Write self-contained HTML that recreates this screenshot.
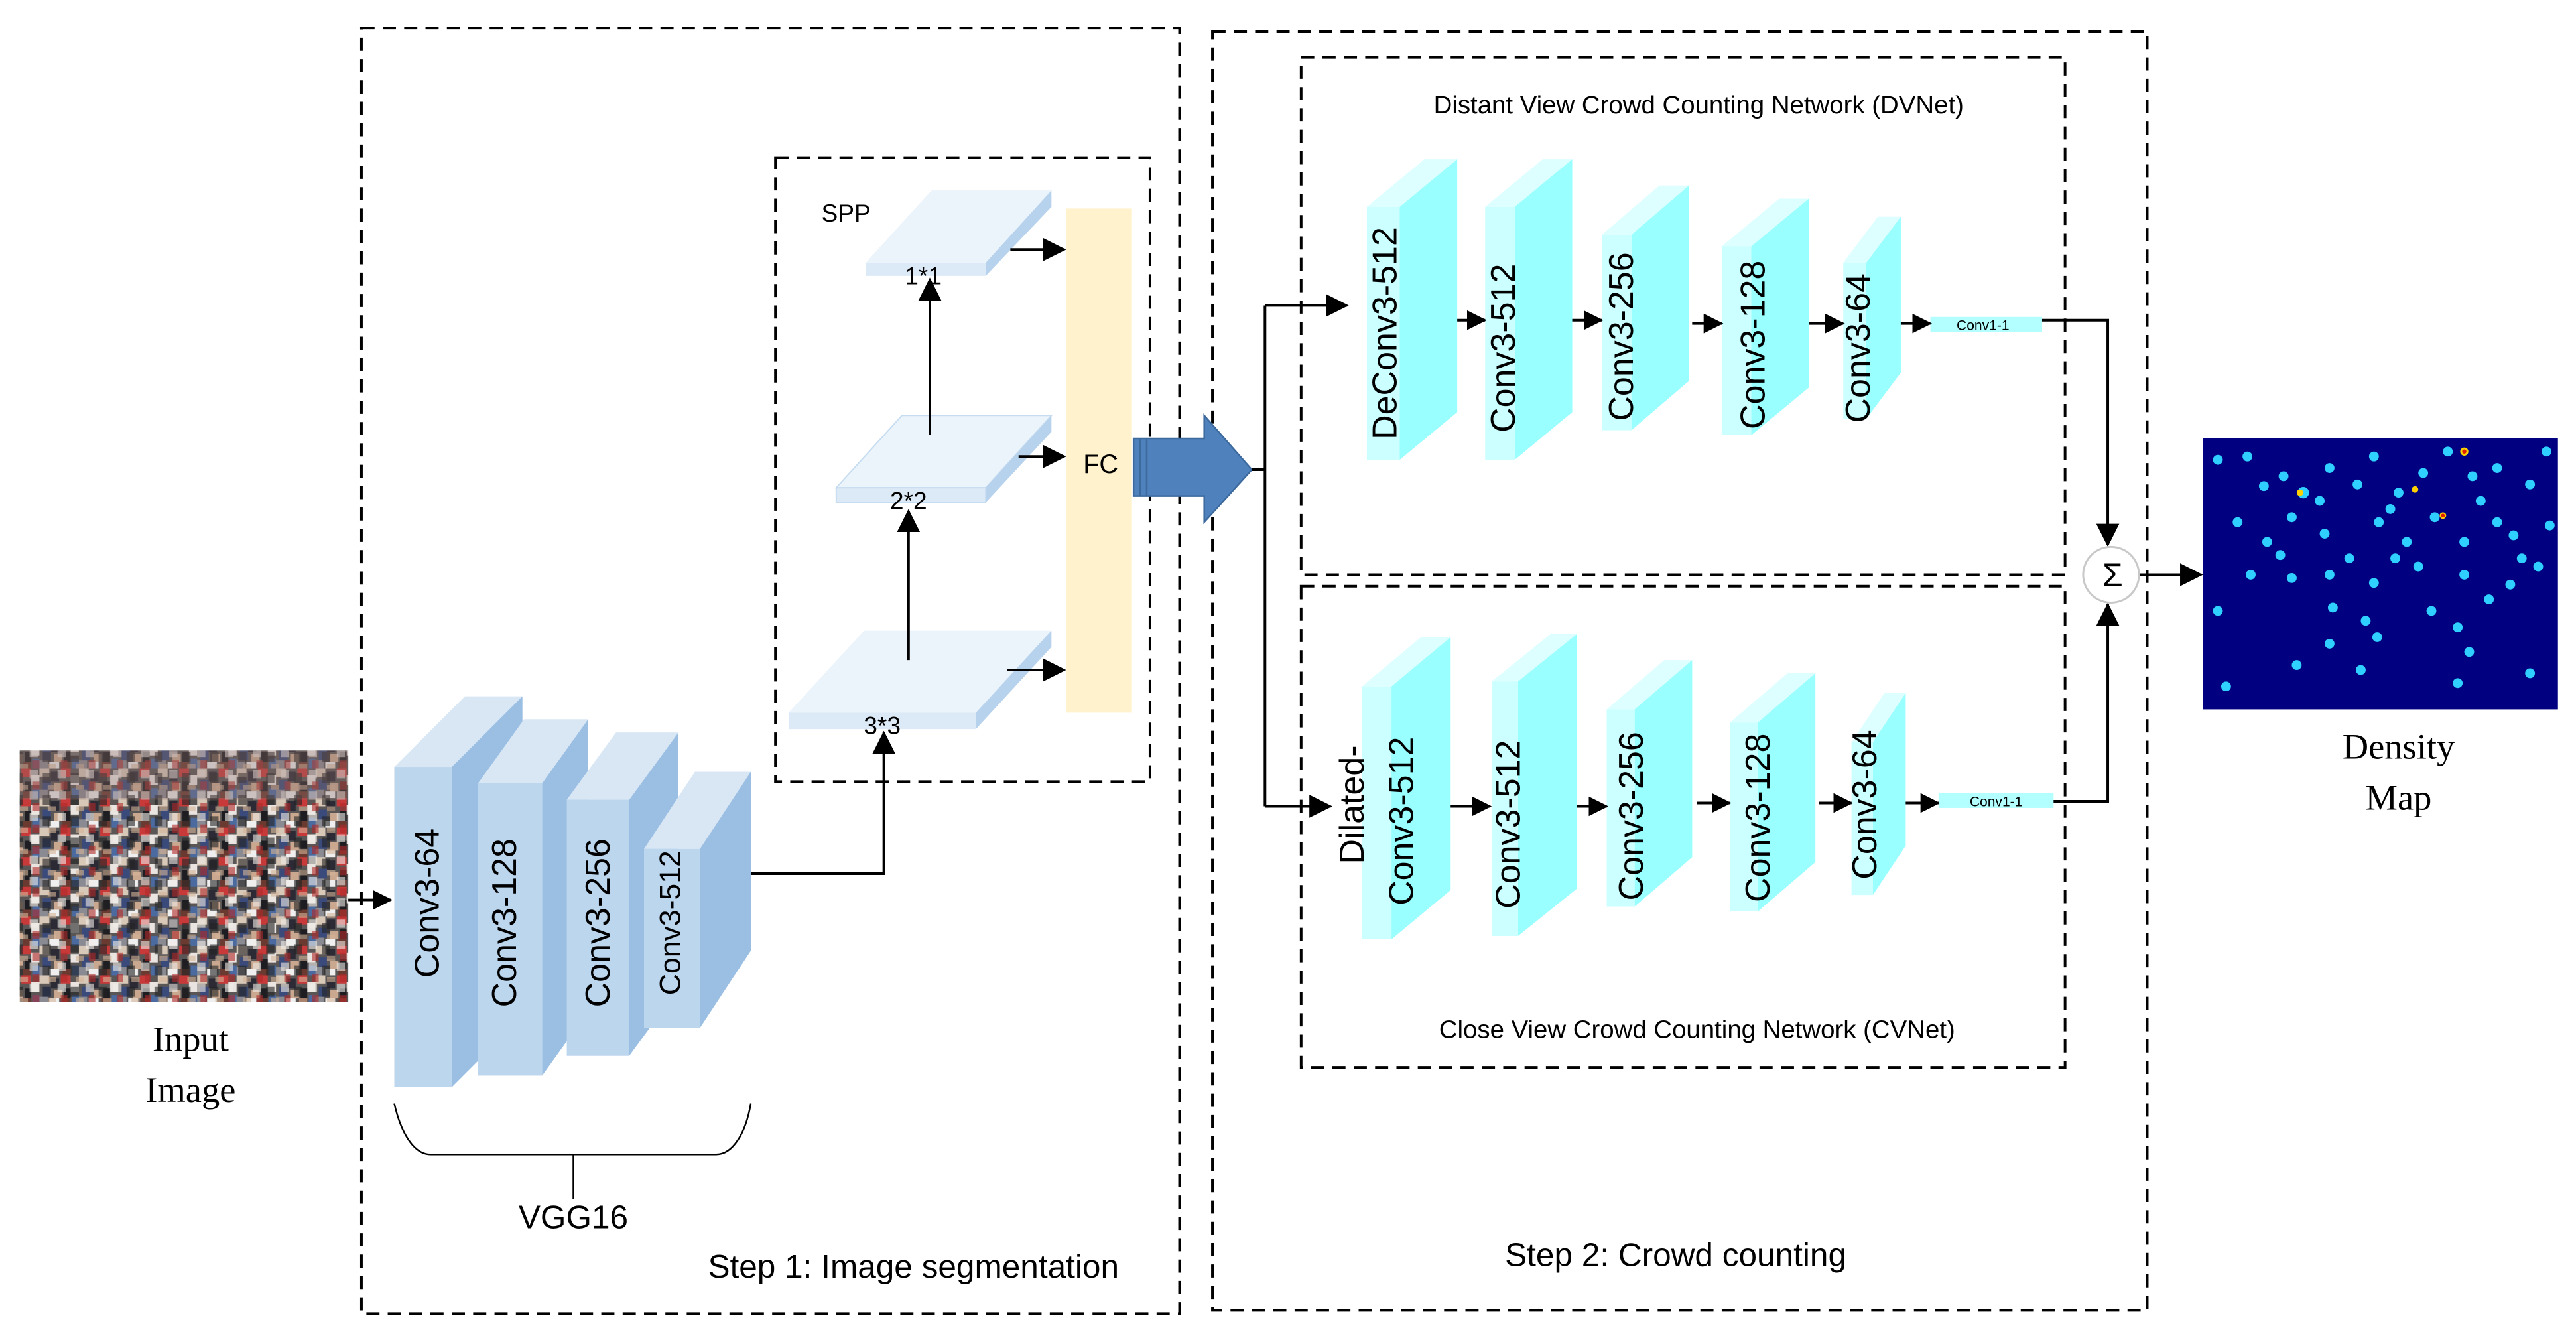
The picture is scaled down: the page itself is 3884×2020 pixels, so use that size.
<!DOCTYPE html>
<html><head><meta charset="utf-8"><style>
html,body{margin:0;padding:0;background:#fff;}
svg{display:block;}
</style></head><body>
<svg width="3884" height="2020" viewBox="0 0 1568 816" preserveAspectRatio="none" xmlns="http://www.w3.org/2000/svg" font-family="Liberation Sans, DejaVu Sans, sans-serif">
<defs>
<marker id="ah" markerWidth="12" markerHeight="12" refX="11" refY="6" orient="auto" markerUnits="userSpaceOnUse" viewBox="0 0 12 12"><path d="M0,0 L12,6 L0,12 z" fill="#000"/></marker>
<marker id="ah2" markerWidth="14" markerHeight="14" refX="13" refY="7" orient="auto" markerUnits="userSpaceOnUse" viewBox="0 0 14 14"><path d="M0,0 L14,7 L0,14 z" fill="#000"/></marker>
<pattern id="crowd" width="24" height="18" patternUnits="userSpaceOnUse">
<rect width="24" height="18" fill="#5a5656"/>
<rect x="0" y="0" width="6" height="5" fill="#d8c8b8"/>
<rect x="7" y="2" width="5" height="6" fill="#2c2a35"/>
<rect x="13" y="0" width="6" height="5" fill="#c83a3a"/>
<rect x="19" y="4" width="5" height="6" fill="#e9e4e0"/>
<rect x="2" y="7" width="5" height="6" fill="#3a4a7a"/>
<rect x="9" y="9" width="5" height="5" fill="#caa890"/>
<rect x="15" y="8" width="4" height="6" fill="#1e1e22"/>
<rect x="0" y="13" width="5" height="5" fill="#8a8a92"/>
<rect x="6" y="14" width="6" height="4" fill="#efefef"/>
<rect x="14" y="14" width="5" height="4" fill="#6a3a30"/>
<rect x="20" y="12" width="4" height="6" fill="#4a6aa0"/>
</pattern>
<pattern id="crowd2" width="17" height="13" patternUnits="userSpaceOnUse">
<rect x="1" y="1" width="5" height="5" fill="#f0ece8"/>
<rect x="9" y="3" width="5" height="6" fill="#222"/>
<rect x="3" y="8" width="4" height="5" fill="#b02828"/>
<rect x="12" y="10" width="5" height="3" fill="#d4b498"/>
</pattern>
</defs>

<!-- dashed boxes -->
<g fill="none" stroke="#000" stroke-width="1.6" stroke-dasharray="8,5">
<rect x="220" y="17" width="498" height="783"/>
<rect x="472" y="96" width="228" height="380"/>
<rect x="738" y="19" width="569" height="779"/>
<rect x="792" y="35" width="465" height="315"/>
<rect x="792" y="357" width="465" height="293"/>
</g>

<!-- input image -->
<rect x="12" y="457" width="200" height="153" fill="url(#crowd)"/>
<rect x="12" y="457" width="200" height="153" fill="url(#crowd2)" opacity="0.6"/>
<rect x="12" y="457" width="200" height="30" fill="#8a6e6a" opacity="0.35"/>
<text x="116" y="640" font-family="Liberation Serif, serif" font-size="22" text-anchor="middle">Input</text>
<text x="116" y="671" font-family="Liberation Serif, serif" font-size="22" text-anchor="middle">Image</text>
<line x1="212" y1="548" x2="238" y2="548" stroke="#000" stroke-width="1.6" marker-end="url(#ah)"/>

<!-- VGG blocks -->
<g>
<polygon points="240,467 275,467 318,424 283,424" fill="#d9e7f5"/>
<polygon points="275,467 318,424 318,619 275,662" fill="#9bbfe3"/>
<rect x="240" y="467" width="35" height="195" fill="#bcd6ee"/>
<polygon points="291,477 330,477 358,438 319,438" fill="#d9e7f5"/>
<polygon points="330,477 358,438 358,616 330,655" fill="#9bbfe3"/>
<rect x="291" y="477" width="39" height="178" fill="#bcd6ee"/>
<polygon points="345,487 383,487 413,446 375,446" fill="#d9e7f5"/>
<polygon points="383,487 413,446 413,602 383,643" fill="#9bbfe3"/>
<rect x="345" y="487" width="38" height="156" fill="#bcd6ee"/>
<polygon points="392,517 426,517 457,470 423,470" fill="#d9e7f5"/>
<polygon points="426,517 457,470 457,579 426,626" fill="#9bbfe3"/>
<rect x="392" y="517" width="34" height="109" fill="#bcd6ee"/>
</g>
<g font-size="21" fill="#000" text-anchor="middle">
<text transform="translate(267,550) rotate(-90)">Conv3-64</text>
<text transform="translate(314,562) rotate(-90)">Conv3-128</text>
<text transform="translate(371,562) rotate(-90)">Conv3-256</text>
<text transform="translate(414,562) rotate(-90)" font-size="18">Conv3-512</text>
</g>
<path d="M240,672 C244,690 252,703 262,703 L436,703 C446,703 454,690 457,672" fill="none" stroke="#000" stroke-width="1"/>
<line x1="349" y1="703" x2="349" y2="730" stroke="#000" stroke-width="1"/>
<text x="349" y="748" font-size="20" text-anchor="middle">VGG16</text>
<text x="556" y="778" font-size="20" text-anchor="middle">Step 1: Image segmentation</text>

<!-- VGG to SPP -->
<polyline points="457,532 538,532 538,446" fill="none" stroke="#000" stroke-width="1.6" marker-end="url(#ah2)"/>

<!-- SPP plates -->
<text x="500" y="135" font-size="15">SPP</text>
<polygon points="527,160 600,160 640,116 567,116" fill="#ebf3fb"/>
<polygon points="600,160 640,116 640,126 600,168" fill="#b7d2ed"/>
<rect x="527" y="160" width="73" height="8" fill="#dce9f6"/>
<text x="562" y="173" font-size="15" text-anchor="middle">1*1</text>
<polygon points="509,297 600,297 640,253 549,253" fill="#ebf3fb" stroke="#c6dcf0" stroke-width="0.8"/>
<polygon points="600,297 640,253 640,263 600,306" fill="#b7d2ed"/>
<rect x="509" y="297" width="91" height="9" fill="#dce9f6" stroke="#c6dcf0" stroke-width="0.8"/>
<text x="553" y="310" font-size="15" text-anchor="middle">2*2</text>
<polygon points="480,434 594,434 640,384 526,384" fill="#ebf3fb"/>
<polygon points="594,434 640,384 640,394 594,444" fill="#b7d2ed"/>
<rect x="480" y="434" width="114" height="10" fill="#dce9f6"/>
<text x="537" y="447" font-size="15" text-anchor="middle">3*3</text>
<g stroke="#000" stroke-width="1.6" fill="none">
<line x1="553" y1="402" x2="553" y2="311" marker-end="url(#ah2)"/>
<line x1="566" y1="265" x2="566" y2="170" marker-end="url(#ah2)"/>
<line x1="615" y1="152" x2="648" y2="152" marker-end="url(#ah2)"/>
<line x1="620" y1="278" x2="648" y2="278" marker-end="url(#ah2)"/>
<line x1="613" y1="408" x2="648" y2="408" marker-end="url(#ah2)"/>
</g>
<rect x="649" y="127" width="40" height="307" fill="#fff2cc"/>
<text x="670" y="288" font-size="16" text-anchor="middle">FC</text>

<!-- big arrow -->
<polygon points="690,267 733,267 733,253 762,286 733,318 733,302 690,302" fill="#4f81bd" stroke="#3d6a9e" stroke-width="1"/>
<line x1="694" y1="267" x2="694" y2="302" stroke="#3d6a9e" stroke-width="1"/>
<line x1="698" y1="267" x2="698" y2="302" stroke="#3d6a9e" stroke-width="1"/>

<!-- split -->
<g stroke="#000" stroke-width="1.6" fill="none">
<line x1="762" y1="286" x2="770" y2="286"/>
<line x1="770" y1="186" x2="770" y2="491"/>
<line x1="770" y1="186" x2="820" y2="186" marker-end="url(#ah2)"/>
<line x1="770" y1="491" x2="810" y2="491" marker-end="url(#ah2)"/>
</g>

<!-- DVNet -->
<text x="1034" y="69" font-size="15.5" text-anchor="middle">Distant View Crowd Counting Network (DVNet)</text>
<g>
<polygon points="832,126 852,126 887,97 867,97" fill="#ddffff"/>
<polygon points="852,126 887,97 887,251 852,280" fill="#99ffff"/>
<rect x="832" y="126" width="20" height="154" fill="#ccffff"/>
<polygon points="904,126 922,126 957,97 939,97" fill="#ddffff"/>
<polygon points="922,126 957,97 957,251 922,280" fill="#99ffff"/>
<rect x="904" y="126" width="18" height="154" fill="#ccffff"/>
<polygon points="975,143 993,143 1028,113 1010,113" fill="#ddffff"/>
<polygon points="993,143 1028,113 1028,232 993,262" fill="#99ffff"/>
<rect x="975" y="143" width="18" height="119" fill="#ccffff"/>
<polygon points="1048,150 1066,150 1101,121 1083,121" fill="#ddffff"/>
<polygon points="1066,150 1101,121 1101,236 1066,265" fill="#99ffff"/>
<rect x="1048" y="150" width="18" height="115" fill="#ccffff"/>
<polygon points="1122,160 1136,160 1157,132 1143,132" fill="#ddffff"/>
<polygon points="1136,160 1157,132 1157,227 1136,255" fill="#99ffff"/>
<rect x="1122" y="160" width="14" height="95" fill="#ccffff"/>
<rect x="1175" y="193" width="68" height="9" fill="#b3ffff"/>
</g>
<g font-size="21" text-anchor="middle">
<text transform="translate(850,203) rotate(-90)">DeConv3-512</text>
<text transform="translate(922,212) rotate(-90)">Conv3-512</text>
<text transform="translate(994,205) rotate(-90)">Conv3-256</text>
<text transform="translate(1074,210) rotate(-90)">Conv3-128</text>
<text transform="translate(1138,212) rotate(-90)">Conv3-64</text>
</g>
<text x="1207" y="201" font-size="8.5" text-anchor="middle">Conv1-1</text>
<g stroke="#000" stroke-width="1.6">
<line x1="887" y1="195" x2="904" y2="195" marker-end="url(#ah)"/>
<line x1="957" y1="195" x2="975" y2="195" marker-end="url(#ah)"/>
<line x1="1030" y1="197" x2="1048" y2="197" marker-end="url(#ah)"/>
<line x1="1101" y1="197" x2="1122" y2="197" marker-end="url(#ah)"/>
<line x1="1157" y1="197" x2="1175" y2="197" marker-end="url(#ah)"/>
</g>

<!-- CVNet -->
<g>
<polygon points="829,418 847,418 883,388 865,388" fill="#ddffff"/>
<polygon points="847,418 883,388 883,542 847,572" fill="#99ffff"/>
<rect x="829" y="418" width="18" height="154" fill="#ccffff"/>
<polygon points="908,415 924,415 960,386 944,386" fill="#ddffff"/>
<polygon points="924,415 960,386 960,541 924,570" fill="#99ffff"/>
<rect x="908" y="415" width="16" height="155" fill="#ccffff"/>
<polygon points="978,432 995,432 1030,402 1013,402" fill="#ddffff"/>
<polygon points="995,432 1030,402 1030,522 995,552" fill="#99ffff"/>
<rect x="978" y="432" width="17" height="120" fill="#ccffff"/>
<polygon points="1053,440 1070,440 1105,410 1088,410" fill="#ddffff"/>
<polygon points="1070,440 1105,410 1105,525 1070,555" fill="#99ffff"/>
<rect x="1053" y="440" width="17" height="115" fill="#ccffff"/>
<polygon points="1127,452 1140,452 1160,422 1147,422" fill="#ddffff"/>
<polygon points="1140,452 1160,422 1160,515 1140,545" fill="#99ffff"/>
<rect x="1127" y="452" width="13" height="93" fill="#ccffff"/>
<rect x="1180" y="483" width="70" height="9" fill="#b3ffff"/>
</g>
<g font-size="21" text-anchor="middle">
<text transform="translate(830,490) rotate(-90)">Dilated-</text>
<text transform="translate(860,500) rotate(-90)">Conv3-512</text>
<text transform="translate(925,502) rotate(-90)">Conv3-512</text>
<text transform="translate(1000,497) rotate(-90)">Conv3-256</text>
<text transform="translate(1077,498) rotate(-90)">Conv3-128</text>
<text transform="translate(1142,490) rotate(-90)">Conv3-64</text>
</g>
<text x="1215" y="491" font-size="8.5" text-anchor="middle">Conv1-1</text>
<g stroke="#000" stroke-width="1.6">
<line x1="883" y1="491" x2="907" y2="491" marker-end="url(#ah)"/>
<line x1="960" y1="491" x2="978" y2="491" marker-end="url(#ah)"/>
<line x1="1033" y1="489" x2="1053" y2="489" marker-end="url(#ah)"/>
<line x1="1107" y1="489" x2="1127" y2="489" marker-end="url(#ah)"/>
<line x1="1160" y1="489" x2="1180" y2="489" marker-end="url(#ah)"/>
</g>
<text x="1033" y="632" font-size="15.5" text-anchor="middle">Close View Crowd Counting Network (CVNet)</text>

<!-- sum -->
<g stroke="#000" stroke-width="1.6" fill="none">
<polyline points="1243,195 1283,195 1283,332" marker-end="url(#ah2)"/>
<polyline points="1250,488 1283,488 1283,368" marker-end="url(#ah2)"/>
<line x1="1302" y1="350" x2="1340" y2="350" marker-end="url(#ah2)"/>
</g>
<circle cx="1285" cy="350" r="17" fill="#fff" stroke="#c8c8c8" stroke-width="1.2"/>
<text x="1286" y="357" font-size="20" text-anchor="middle">Σ</text>
<text x="1020" y="771" font-size="20" text-anchor="middle">Step 2: Crowd counting</text>

<!-- density map -->
<rect x="1341" y="267" width="216" height="165" fill="#000080"/>
<g fill="#2fd0ff">
<circle cx="1350" cy="280" r="3"/><circle cx="1368" cy="278" r="3"/><circle cx="1390" cy="290" r="3"/><circle cx="1402" cy="300" r="3.5"/>
<circle cx="1418" cy="285" r="3"/><circle cx="1435" cy="295" r="3"/><circle cx="1445" cy="278" r="3"/><circle cx="1460" cy="300" r="3"/>
<circle cx="1475" cy="288" r="3"/><circle cx="1490" cy="275" r="3"/><circle cx="1505" cy="290" r="3"/><circle cx="1520" cy="285" r="3"/>
<circle cx="1540" cy="295" r="3"/><circle cx="1550" cy="275" r="3"/><circle cx="1362" cy="318" r="3"/><circle cx="1380" cy="330" r="3"/>
<circle cx="1395" cy="315" r="3"/><circle cx="1415" cy="325" r="3"/><circle cx="1430" cy="340" r="3"/><circle cx="1448" cy="318" r="3"/>
<circle cx="1465" cy="330" r="3"/><circle cx="1482" cy="315" r="3"/><circle cx="1500" cy="330" r="3"/><circle cx="1520" cy="318" r="3"/>
<circle cx="1535" cy="340" r="3"/><circle cx="1552" cy="320" r="3"/><circle cx="1370" cy="350" r="3"/><circle cx="1395" cy="352" r="3"/>
<circle cx="1418" cy="350" r="3"/><circle cx="1445" cy="355" r="3"/><circle cx="1472" cy="345" r="3"/><circle cx="1500" cy="350" r="3"/>
<circle cx="1528" cy="356" r="3"/><circle cx="1350" cy="372" r="3"/><circle cx="1420" cy="370" r="3"/><circle cx="1440" cy="378" r="3"/>
<circle cx="1480" cy="372" r="3"/><circle cx="1515" cy="365" r="3"/><circle cx="1418" cy="392" r="3"/><circle cx="1447" cy="388" r="3"/>
<circle cx="1496" cy="382" r="3"/><circle cx="1503" cy="397" r="3"/><circle cx="1398" cy="405" r="3"/><circle cx="1355" cy="418" r="3"/>
<circle cx="1437" cy="408" r="3"/><circle cx="1496" cy="416" r="3"/><circle cx="1540" cy="410" r="3"/>
<circle cx="1378" cy="296" r="3"/><circle cx="1412" cy="305" r="3"/><circle cx="1455" cy="310" r="3"/><circle cx="1510" cy="305" r="3"/>
<circle cx="1530" cy="326" r="3"/><circle cx="1388" cy="338" r="3"/><circle cx="1458" cy="340" r="3"/><circle cx="1545" cy="345" r="3"/>
</g>
<g fill="#ffd000"><circle cx="1400" cy="300" r="2"/><circle cx="1470" cy="298" r="2"/><circle cx="1500" cy="275" r="2.5"/><circle cx="1487" cy="314" r="2"/></g>
<g fill="#e02000"><circle cx="1500" cy="275" r="1.3"/><circle cx="1487" cy="314" r="1.2"/></g>
<text x="1460" y="462" font-family="Liberation Serif, serif" font-size="22" text-anchor="middle">Density</text>
<text x="1460" y="493" font-family="Liberation Serif, serif" font-size="22" text-anchor="middle">Map</text>
</svg>
</body></html>
